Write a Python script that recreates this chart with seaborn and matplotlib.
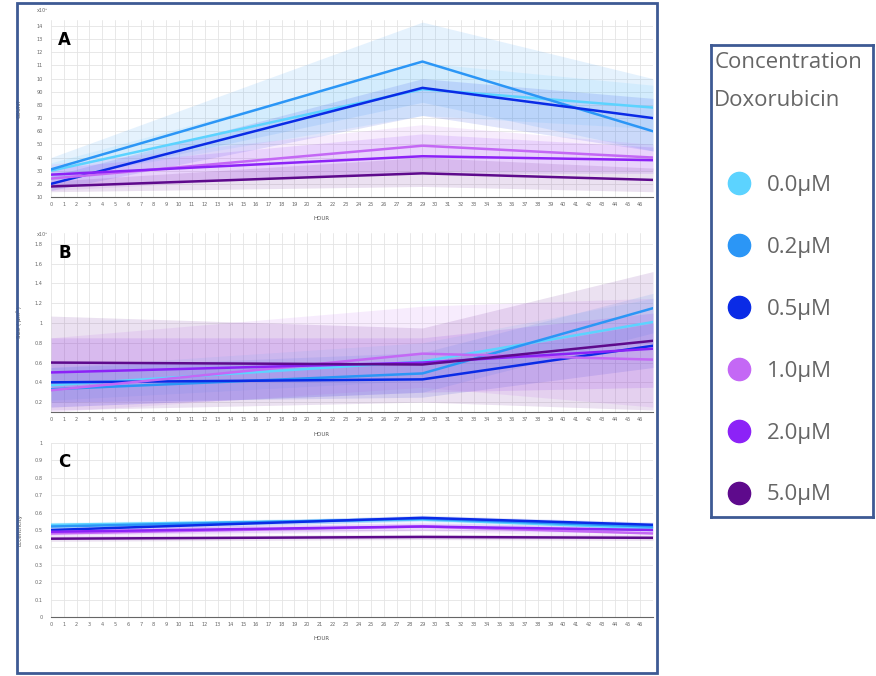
import numpy as np
import pandas as pd
import matplotlib
matplotlib.use("Agg")
import matplotlib.pyplot as plt
from matplotlib.lines import Line2D
from matplotlib.patches import Rectangle
import seaborn as sns

# data (values at hour 0, 29, 47)
hours = [0, 29, 47]
conc = ["0.0µM", "0.2µM", "0.5µM", "1.0µM", "2.0µM", "5.0µM"]
colors = ["#5CD3FF", "#2B96F6", "#0A2BE6", "#C468F5", "#8C22F7", "#5E0A8C"]

# A: count (x10^2 style axis)
count_mid = [[30, 92, 78], [31, 113, 60], [20, 93, 70], [24, 49, 40], [27, 41, 38], [18, 28, 23]]
count_low = [[24, 72, 62], [22, 82, 45], [15, 72, 45], [15, 30, 30], [18, 28, 28], [14, 18, 14]]
count_high = [[36, 112, 95], [40, 143, 100], [26, 100, 85], [35, 65, 50], [32, 58, 48], [22, 40, 32]]

# B: size
size_mid = [[0.37, 0.61, 1.01], [0.33, 0.49, 1.15], [0.40, 0.43, 0.77], [0.32, 0.69, 0.63], [0.50, 0.60, 0.74], [0.60, 0.58, 0.82]]
size_low = [[0.22, 0.42, 0.80], [0.15, 0.30, 0.90], [0.20, 0.25, 0.55], [0.10, 0.35, 0.15], [0.15, 0.30, 0.35], [0.12, 0.20, 0.12]]
size_high = [[0.55, 0.80, 1.25], [0.55, 0.70, 1.30], [0.60, 0.60, 1.00], [0.85, 1.17, 1.25], [0.85, 0.85, 1.10], [1.07, 0.95, 1.52]]

# C: eccentricity
ecc_mid = [[0.53, 0.56, 0.51], [0.52, 0.565, 0.52], [0.50, 0.57, 0.53], [0.48, 0.52, 0.48], [0.49, 0.52, 0.50], [0.45, 0.46, 0.455]]
ecc_low = [[0.515, 0.545, 0.495], [0.505, 0.55, 0.505], [0.485, 0.555, 0.515], [0.455, 0.495, 0.455], [0.47, 0.50, 0.48], [0.435, 0.445, 0.44]]
ecc_high = [[0.545, 0.575, 0.525], [0.535, 0.58, 0.535], [0.515, 0.585, 0.545], [0.505, 0.545, 0.505], [0.51, 0.54, 0.52], [0.465, 0.475, 0.47]]


def long_table(low, mid, high):
    rows = []
    for i, c in enumerate(conc):
        for j, h in enumerate(hours):
            for v in (low[i][j], mid[i][j], high[i][j]):
                rows.append({"hour": h, "conc": c, "value": v})
    return pd.DataFrame(rows)


sns.set_style("white")
plt.rcParams["font.family"] = ["DejaVu Sans"]

fig = plt.figure(figsize=(8.76, 6.76), dpi=100)
W, H = 876, 676

def px_axes(x0, y0, x1, y1):
    return fig.add_axes([x0 / W, 1 - y1 / H, (x1 - x0) / W, (y1 - y0) / H])

panels = [
    (px_axes(51, 20, 653, 197), long_table(count_low, count_mid, count_high), "A", "COUNT",
     (10, 144.6), list(range(10, 150, 10)),
     ["10", "20", "30", "40", "50", "60", "70", "80", "90", "10", "11", "12", "13", "14"]),
    (px_axes(51, 233, 653, 412), long_table(size_low, size_mid, size_high), "B", "Size ( µm² )",
     (0.1, 1.91), [0.2, 0.4, 0.6, 0.8, 1.0, 1.2, 1.4, 1.6, 1.8],
     ["0.2", "0.4", "0.6", "0.8", "1", "1.2", "1.4", "1.6", "1.8"]),
    (px_axes(51, 443, 653, 617), long_table(ecc_low, ecc_mid, ecc_high), "C", "Eccentricity",
     (0, 1.0), [round(0.1 * k, 1) for k in range(11)],
     ["0", "0.1", "0.2", "0.3", "0.4", "0.5", "0.6", "0.7", "0.8", "0.9", "1"]),
]

for ax, df, letter, ylab, ylim, yt, ytl in panels:
    sns.lineplot(data=df, x="hour", y="value", hue="conc", hue_order=conc,
                 palette=colors, estimator="median", errorbar=("pi", 100),
                 err_kws={"alpha": 0.12, "linewidth": 0}, linewidth=1.8,
                 legend=False, ax=ax)
    ax.set_xlim(0, 47)
    ax.set_ylim(*ylim)
    ax.set_xticks(range(0, 48))
    ax.set_xticklabels([str(k) for k in range(0, 47)] + [""])
    ax.set_yticks(yt)
    ax.set_yticklabels(ytl)
    ax.tick_params(axis="x", labelsize=3.6, colors="#666666", length=2, width=0.5, pad=1.5)
    ax.tick_params(axis="y", labelsize=3.6, colors="#666666", length=0, pad=6)
    ax.grid(True, color="#e4e4e4", linewidth=0.6)
    ax.set_axisbelow(True)
    for s in ["top", "right", "left"]:
        ax.spines[s].set_visible(False)
    ax.spines["bottom"].set_color("#666666")
    ax.spines["bottom"].set_linewidth(0.8)
    ax.set_xlabel("HOUR", fontsize=4, color="#555555")
    ax.xaxis.set_label_coords(0.45, -0.11)
    ax.set_ylabel(ylab, fontsize=4, color="#555555")
    ax.yaxis.set_label_coords(-0.048, 0.5)
    ax.text(0.012, 0.94, letter, transform=ax.transAxes, fontsize=12,
            fontweight="bold", va="top", ha="left", color="black")

panels[0][0].text(-0.015, 1.056, "x10³", transform=panels[0][0].transAxes,
                  fontsize=3.5, color="#666666", ha="center", va="center")
panels[1][0].text(-0.015, 0.99, "x10³", transform=panels[1][0].transAxes,
                  fontsize=3.5, color="#666666", ha="center", va="center")

# outer frame around the three panels
fig.patches.append(Rectangle((17 / W, 1 - 673 / H), 640 / W, 670 / H,
                             transform=fig.transFigure, fill=False,
                             edgecolor="#3D5A94", linewidth=2))

# legend box
lax = px_axes(711, 45, 873, 517)
lax.set_xticks([])
lax.set_yticks([])
for s in lax.spines.values():
    s.set_color("#3D5A94")
    s.set_linewidth(2)
handles = [Line2D([], [], marker="o", linestyle="", markersize=16,
                  markerfacecolor=c, markeredgecolor=c) for c in colors]
leg = lax.legend(handles, conc, loc="upper left", bbox_to_anchor=(-0.035, 1.005),
                 frameon=False, title="Concentration\nDoxorubicin",
                 alignment="left", labelspacing=1.84, handletextpad=0.15,
                 handlelength=2.2, borderaxespad=0,
                 prop={"family": "Open Sans", "size": 16})
leg.get_title().set_fontfamily("Open Sans")
leg.get_title().set_fontsize(16)
leg.get_title().set_color("#666666")
leg.get_title().set_linespacing(2.1)
for t in leg.get_texts():
    t.set_color("#666666")
leg._legend_box.sep = 46

fig.savefig("out.png", dpi=100)
